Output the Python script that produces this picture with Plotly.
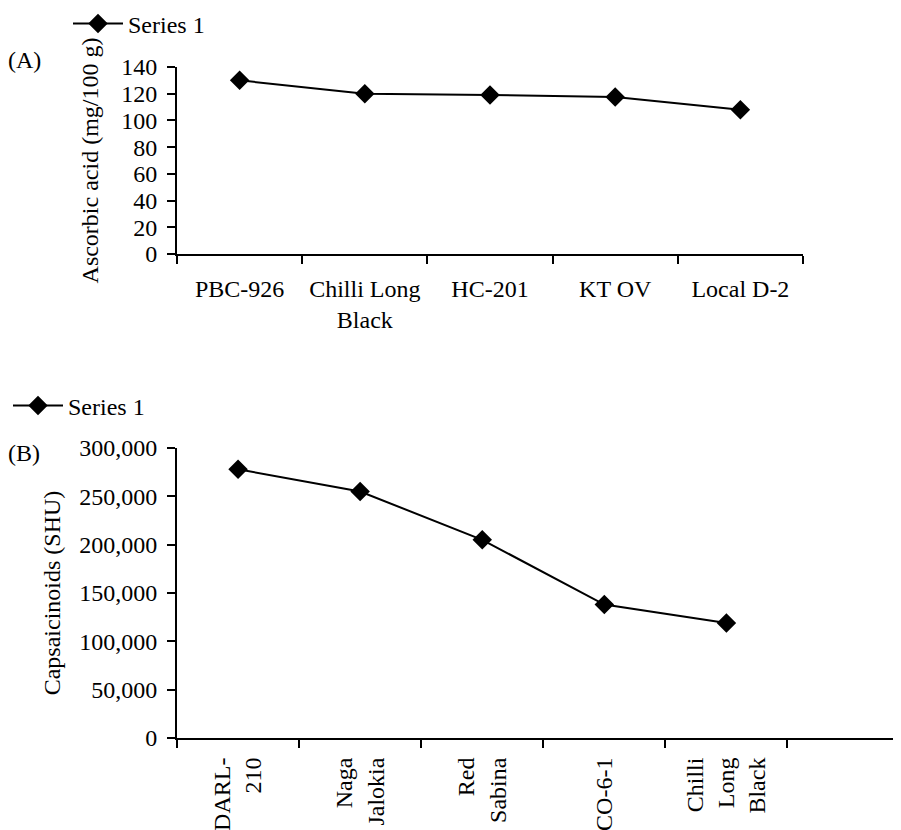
import plotly.graph_objects as go

# ---- data ----
cats_a = ["PBC-926", "Chilli Long<br>Black", "HC-201", "KT OV", "Local D-2"]
vals_a = [130, 120, 119, 117.5, 108]
ticks_a = [0, 20, 40, 60, 80, 100, 120, 140]

cats_b = ["DARL-<br>210", "Naga<br>Jalokia", "Red<br>Sabina", "CO-6-1", "Chilli<br>Long<br>Black"]
vals_b = [278000, 255000, 205000, 138000, 119000]
ticks_b = [0, 50000, 100000, 150000, 200000, 250000, 300000]

series_name = "Series 1"
title_a = "Ascorbic acid (mg/100 g)"
title_b = "Capsaicinoids (SHU)"

# page has an 8px body margin; size the figure to fit the window
OFF = 8
W, H = 901 - OFF, 830 - OFF
FONT = "Liberation Serif"
FS = 24

def px_x(p):
    return (p - OFF) / W

def px_y(p):
    return 1 - (p - OFF) / H

fig = go.Figure()

fig.add_trace(go.Scatter(
    x=cats_a, y=vals_a, mode="lines+markers", name=series_name,
    line=dict(color="black", width=2),
    marker=dict(symbol="diamond", size=15, color="black"),
    xaxis="x", yaxis="y", legend="legend", cliponaxis=False, showlegend=True,
))
fig.add_trace(go.Scatter(
    x=cats_b, y=vals_b, mode="lines+markers", name=series_name,
    line=dict(color="black", width=2),
    marker=dict(symbol="diamond", size=15, color="black"),
    xaxis="x2", yaxis="y2", legend="legend2", cliponaxis=False, showlegend=True,
))

axis_common = dict(
    showgrid=False, zeroline=False, showline=True, linecolor="black", linewidth=2,
    ticks="outside", tickcolor="black", tickwidth=2,
    tickfont=dict(family=FONT, size=FS, color="black"),
)

fig.update_layout(
    width=W, height=H, autosize=False, showlegend=True,
    margin=dict(l=0, r=0, t=0, b=0, autoexpand=False),
    paper_bgcolor="white", plot_bgcolor="white",
    font=dict(family=FONT, size=FS, color="black"),
    xaxis=dict(
        domain=[px_x(177), px_x(803)], anchor="y", type="category",
        categoryorder="array", categoryarray=cats_a,
        range=[-0.5, 4.5], tickson="boundaries", ticklen=8,
        ticklabelstandoff=12, **axis_common,
    ),
    yaxis=dict(
        domain=[px_y(254), px_y(67)], anchor="x", range=[0, 140],
        tickvals=ticks_a, ticklen=8, ticklabelstandoff=5,
        title=dict(text=title_a, font=dict(family=FONT, size=FS), standoff=16),
        **axis_common,
    ),
    xaxis2=dict(
        domain=[px_x(177), 1.0], anchor="y2", type="category",
        categoryorder="array", categoryarray=cats_b,
        range=[-0.5, 5.43], tickson="boundaries", ticklen=8, tickangle=-90,
        ticklabelstandoff=8, **axis_common,
    ),
    yaxis2=dict(
        domain=[px_y(738), px_y(448)], anchor="x2", range=[0, 300000],
        tickvals=ticks_b, tickformat=",d", ticklen=8, ticklabelstandoff=5,
        title=dict(text=title_b, font=dict(family=FONT, size=FS), standoff=12),
        **axis_common,
    ),
    legend=dict(
        x=px_x(68), y=px_y(24), xanchor="left", yanchor="middle",
        bgcolor="rgba(0,0,0,0)", font=dict(family=FONT, size=FS),
        itemwidth=50,
    ),
    legend2=dict(
        x=px_x(8), y=px_y(406), xanchor="left", yanchor="middle",
        bgcolor="rgba(0,0,0,0)", font=dict(family=FONT, size=FS),
        itemwidth=50,
    ),
    annotations=[
        dict(text="(A)", x=px_x(6), y=px_y(60), xref="paper", yref="paper",
             xanchor="left", yanchor="middle", showarrow=False,
             font=dict(family=FONT, size=FS)),
        dict(text="(B)", x=px_x(6), y=px_y(453), xref="paper", yref="paper",
             xanchor="left", yanchor="middle", showarrow=False,
             font=dict(family=FONT, size=FS)),
    ],
)

fig.write_html("out.html")
